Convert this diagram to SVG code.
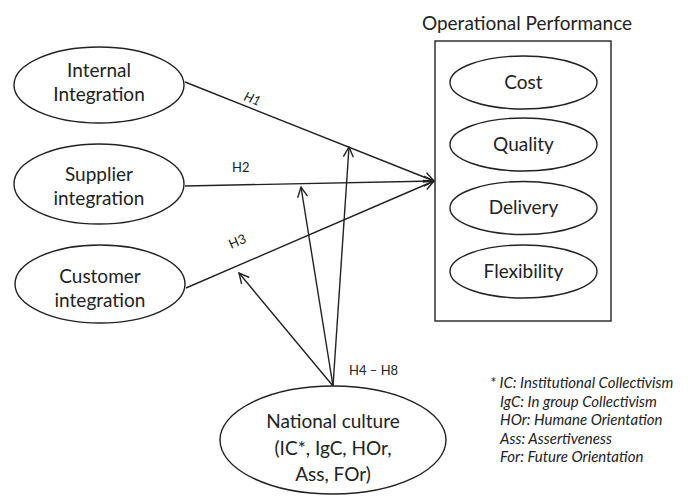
<svg xmlns="http://www.w3.org/2000/svg" width="688" height="496" viewBox="0 0 688 496">
<style>
.n{fill:#fff;stroke:#222;stroke-width:1.4}
.t{font-family:Lato,"Open Sans",sans-serif;font-size:19px;fill:#222;text-anchor:middle}
.s{font-family:Lato,"Open Sans",sans-serif;font-size:13px;fill:#222}
.lg{font-family:Lato,"Open Sans",sans-serif;font-size:15px;font-style:italic;fill:#222}
.c{fill:none;stroke:#222;stroke-width:1.4}
</style>
<defs>
<marker id="a" viewBox="0 0 12 12" refX="11" refY="6" markerWidth="12" markerHeight="12" markerUnits="userSpaceOnUse" orient="auto">
<path d="M1,1 L11,6 L1,11" fill="none" stroke="#222" stroke-width="1.4"/>
</marker>
</defs>
<rect width="688" height="496" fill="#fff"/>
<g id="connectors">
<line class="c" x1="185" y1="82" x2="434" y2="181" marker-end="url(#a)"/>
<line class="c" x1="185" y1="186" x2="434" y2="181" marker-end="url(#a)"/>
<line class="c" x1="186" y1="288" x2="434" y2="181" marker-end="url(#a)"/>
<line class="c" x1="333" y1="386" x2="349" y2="147" marker-end="url(#a)"/>
<line class="c" x1="333" y1="386" x2="301" y2="187" marker-end="url(#a)"/>
<line class="c" x1="333" y1="386" x2="239" y2="273" marker-end="url(#a)"/>
<text class="s" font-style="italic" transform="translate(243,100) rotate(21)">H1</text>
<text class="s" x="232" y="172">H2</text>
<text class="s" transform="translate(231,249) rotate(-23)">H3</text>
<text class="s" x="349" y="375">H4 – H8</text>
</g>
<g id="internal">
<ellipse class="n" cx="99" cy="85" rx="85" ry="38"/>
<text class="t" x="99" y="77">Internal</text>
<text class="t" x="99" y="101">Integration</text>
</g>
<g id="supplier">
<ellipse class="n" cx="99" cy="184" rx="85" ry="40"/>
<text class="t" x="99" y="181">Supplier</text>
<text class="t" x="99" y="205">integration</text>
</g>
<g id="customer">
<ellipse class="n" cx="100" cy="284" rx="85" ry="39"/>
<text class="t" x="100" y="283">Customer</text>
<text class="t" x="100" y="307">integration</text>
</g>
<g id="operational">
<text class="t" x="527" y="30" font-size="20">Operational Performance</text>
<rect class="n" x="435" y="41" width="176" height="280"/>
</g>
<g id="cost">
<ellipse class="n" cx="523.5" cy="82.5" rx="73.5" ry="26.5"/>
<text class="t" x="523.5" y="89">Cost</text>
</g>
<g id="quality">
<ellipse class="n" cx="523.5" cy="144.5" rx="73.5" ry="26.5"/>
<text class="t" x="523.5" y="151">Quality</text>
</g>
<g id="delivery">
<ellipse class="n" cx="523.5" cy="208" rx="73.5" ry="26.5"/>
<text class="t" x="523.5" y="214">Delivery</text>
</g>
<g id="flexibility">
<ellipse class="n" cx="523.5" cy="271.5" rx="73.5" ry="26.5"/>
<text class="t" x="523.5" y="278">Flexibility</text>
</g>
<g id="national">
<ellipse class="n" cx="333" cy="440" rx="113" ry="54"/>
<text class="t" x="333" y="428" font-size="21">National culture</text>
<text class="t" x="333" y="455" font-size="21">(IC*, IgC, HOr,</text>
<text class="t" x="333" y="481" font-size="21">Ass, FOr)</text>
</g>
<g id="legend">
<text class="lg" x="490" y="388">* IC: Institutional Collectivism</text>
<text class="lg" x="500" y="407">IgC: In group Collectivism</text>
<text class="lg" x="500" y="425">HOr: Humane Orientation</text>
<text class="lg" x="500" y="444">Ass: Assertiveness</text>
<text class="lg" x="500" y="462">For: Future Orientation</text>
</g>
</svg>
